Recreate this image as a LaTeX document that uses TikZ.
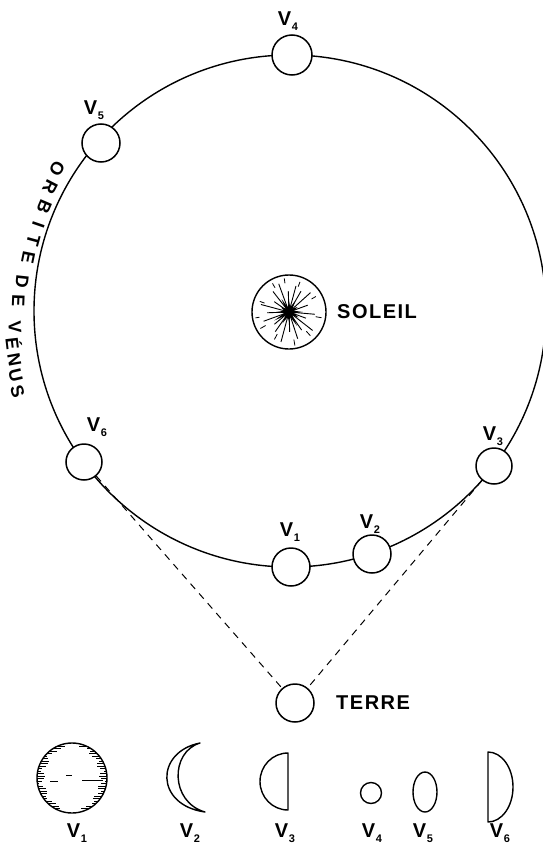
\documentclass[tikz,border=0pt]{standalone}
\usepackage{fontspec}
\setmainfont{Liberation Sans}
% planet label: V with a lowered index
\newcommand{\vn}[1]{V\kern0.6pt\raisebox{-0.5ex}{\fontsize{11}{11}\selectfont#1}}
\newcommand{\gap}{\kern1.5pt}
\begin{document}
\begin{tikzpicture}[x=1pt,y=-1pt,
  orbit/.style={line width=1.4pt},
  planet/.style={circle,draw,fill=white,line width=1.5pt,minimum size=38pt,inner sep=0pt},
  sight/.style={dash pattern=on 7pt off 6pt,line width=1pt},
  phase/.style={line width=1.4pt,line join=round},
  lbl/.style={font=\fontsize{20}{20}\selectfont\bfseries,inner sep=0pt},
  word/.style={font=\fontsize{20}{20}\selectfont\bfseries,inner sep=0pt,anchor=west},
  orbletter/.style={font=\fontsize{18}{18}\selectfont\bfseries,inner sep=0pt}]

\fill[white] (0,0) rectangle (543,848);
\useasboundingbox (0,0) rectangle (543,848);

% orbit of Venus (runs off the right edge)
\begin{scope}
  \clip (0,0) rectangle (543,848);
  \draw[orbit] (290,311) circle[radius=256pt];
\end{scope}

% orbit name, lettered along the outside of the orbit
\begin{scope}[shift={(290,311)}]
  \foreach \ch/\ang/\rad in {O/211.4/273, R/207.3/270, B/203.0/267, I/199.0/266,
      T/195.3/266, E/191.5/267, D/186.2/269.5, E/182.2/272,
      V/176.7/275.5, É/173.3/278, N/170.0/280, U/166.8/282, S/163.6/284}
    \node[orbletter,rotate={90-\ang}] at (\ang:\rad) {\ch};
\end{scope}

% the Sun
\node[circle,draw,line width=1.4pt,minimum size=74pt,inner sep=0pt] (sun) at (289,312) {};
\begin{scope}[shift={(sun.center)}]
  \fill (0:14) -- (15:5) -- (30:11) -- (45:5) -- (60:16) -- (75:5) -- (90:10)
     -- (105:5) -- (120:13) -- (135:5) -- (150:17) -- (165:5) -- (180:12)
     -- (195:5) -- (210:9) -- (225:5) -- (240:15) -- (255:5) -- (270:11)
     -- (285:5) -- (300:13) -- (315:5) -- (330:10) -- (345:5) -- cycle;
  \foreach \a/\r in {5/26, 20/18, 38/30, 55/22, 72/28, 88/20, 105/31, 125/24,
      140/19, 160/27, 178/22, 195/29, 215/18, 232/26, 250/30, 268/21, 285/27,
      300/24, 318/29, 340/20}
    \draw[line width=0.9pt] (\a:5) -- (\a:\r);
  \foreach \a/\ra/\rb in {10/27/33, 48/26/32, 80/28/34, 118/25/31, 150/27/33,
      170/30/34, 200/26/31, 240/28/33, 262/29/34, 290/27/32, 330/26/31}
    \draw[line width=0.8pt] (\a:\ra) -- (\a:\rb);
\end{scope}
\node[word,anchor=west] (soleil) at (337,312) {S\gap O\gap L\gap E\gap I\gap L};

% the Earth
\node[planet] (terre) at (295,703) {};
\node[word] (terrelbl) at (336,703) {T\gap E\gap R\gap R\gap E};

% Venus at six points of its orbit
\node[planet] (v1) at (291,567) {};
\node[planet] (v2) at (372,554) {};
\node[planet,minimum size=36pt] (v3) at (494,466) {};
\node[planet,minimum size=40pt] (v4) at (292,55) {};
\node[planet] (v5) at (101,143) {};
\node[planet,minimum size=36pt] (v6) at (84,462) {};

% lines of sight from the Earth
\draw[sight] (v6) -- (terre);
\draw[sight] (v3) -- (terre);

\node[lbl] (l1) at (290,532) {\vn{1}};
\node[lbl] (l2) at (370,524) {\vn{2}};
\node[lbl] (l3) at (493,436) {\vn{3}};
\node[lbl] (l4) at (288,21) {\vn{4}};
\node[lbl] (l5) at (94,110) {\vn{5}};
\node[lbl] (l6) at (97,427) {\vn{6}};

% phases of Venus as seen from the Earth
% V1: full disc, hatched along the rim
\draw[phase] (72,778) circle[radius=35pt];
\foreach \dy in {-32,-29.5,...,32} {
  \pgfmathsetmacro\w{sqrt(35*35-\dy*\dy)}
  \pgfmathsetmacro\la{2+6*abs(sin(\dy*131))}
  \pgfmathsetmacro\lb{2+6*abs(cos(\dy*89))}
  \draw[line width=0.7pt] (72-\w,778+\dy) -- ++(\la,0);
  \draw[line width=0.7pt] (72+\w,778+\dy) -- ++(-\lb,0);
}
\draw[line width=0.7pt] (50,781) -- (58,781) (66,775) -- (72,775) (82,780) -- (103,780);
% V2: crescent
\draw[phase] (200,743) .. controls (155,752) and (155,805) .. (205,812)
  .. controls (170,802) and (170,752) .. (200,743) -- cycle;
% V3: half disc, lit side to the left
\draw[phase] (288,753) -- (288,810) arc[start angle=270,end angle=90,x radius=28pt,y radius=28.5pt] -- cycle;
% V4: small full disc
\draw[phase] (371,793) circle[radius=10.5pt];
% V5: gibbous
\draw[phase] (425,792) ellipse[x radius=12pt,y radius=20pt];
% V6: half disc, lit side to the right
\draw[phase] (488,752) -- (488,822) arc[start angle=270,end angle=450,x radius=25pt,y radius=35pt] -- cycle;

\node[lbl] (p1) at (77,833) {\vn{1}};
\node[lbl] (p2) at (190,833) {\vn{2}};
\node[lbl] (p3) at (285,833) {\vn{3}};
\node[lbl] (p4) at (372,833) {\vn{4}};
\node[lbl] (p5) at (423,833) {\vn{5}};
\node[lbl] (p6) at (500,833) {\vn{6}};
\end{tikzpicture}
\end{document}
